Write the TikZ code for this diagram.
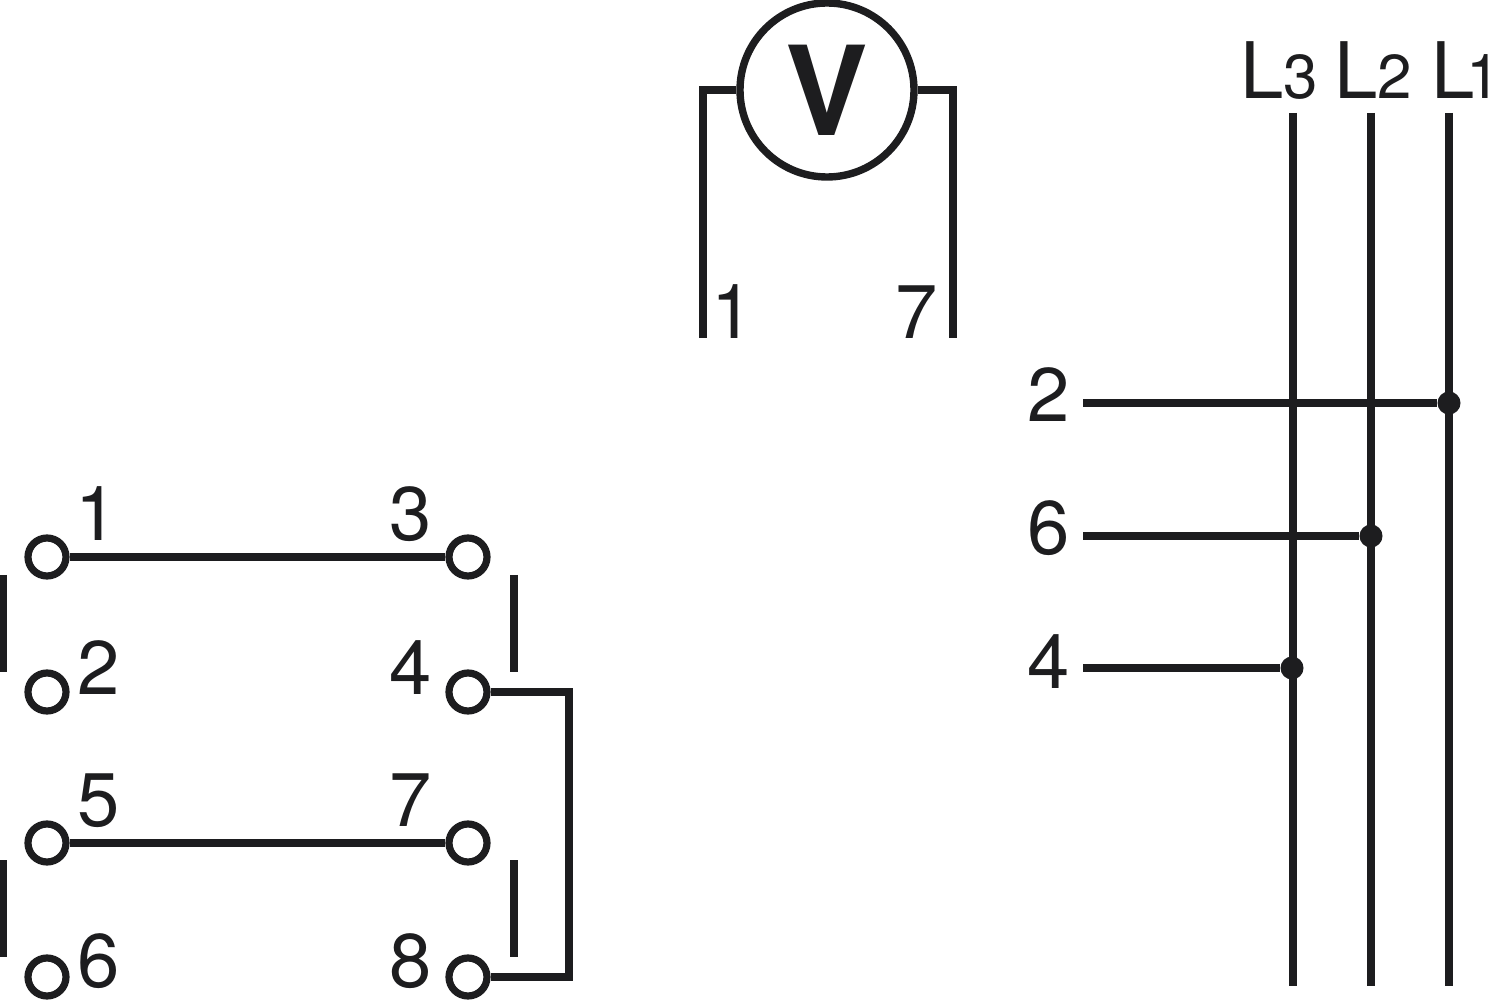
\documentclass[tikz,border=0pt]{standalone}
\usepackage{fontspec}
\setmainfont{TeX Gyre Heros}
\usepackage{xcolor}
\definecolor{wirecol}{RGB}{29,29,31}

\begin{document}
\begin{tikzpicture}[
    x=0.5pt, y=-0.5pt,
    wire/.style={draw=wirecol, line width=3.75pt},
    terminal/.style={
        circle, draw=wirecol, line width=3.6pt, fill=white,
        minimum size=19pt, inner sep=0pt
    },
    junction/.style={
        circle, fill=wirecol, minimum size=11.5pt, inner sep=0pt
    },
    digit/.style={
        anchor=base, inner sep=0pt, text=wirecol,
        font=\fontsize{38}{38}\selectfont
    },
    phase/.style={
        anchor=base west, inner sep=0pt, text=wirecol,
        font=\fontsize{39}{39}\selectfont
    }
]
\newcommand{\phaseidx}[1]{{\fontsize{31}{31}\selectfont #1}}
\useasboundingbox (0,0) rectangle (1500,1005);

% Voltmeter
\node[circle, draw=wirecol, line width=3.7pt, minimum size=87pt, inner sep=0pt] (meter) at (827,90) {};
\node[inner sep=0pt, anchor=base, text=wirecol, font=\fontsize{62}{62}\selectfont\bfseries] (meterv) at (827,136) {V};
\coordinate (meterleft) at (703,338);
\coordinate (meterright) at (953,338);
\draw[wire, line join=miter] (meter.west) -| (meterleft);
\draw[wire, line join=miter] (meter.east) -| (meterright);
\node[digit] (meterone) at (733,339) {1};
\node[digit] (meterseven) at (917,339) {7};

% Phase lines
\node[phase] (labelthree) at (1240,99) {L\phaseidx{3}};
\node[phase] (labeltwo) at (1334,99) {L\phaseidx{2}};
\node[phase] (labelone) at (1431,99) {L\kern-4pt\phaseidx{1}};

\coordinate (topthree) at (1293,113);
\coordinate (toptwo) at (1371,113);
\coordinate (topone) at (1449,113);
\coordinate (botthree) at (1293,986);
\coordinate (bottwo) at (1371,986);
\coordinate (botone) at (1449,986);
\draw[wire] (topthree) -- (botthree);
\draw[wire] (toptwo) -- (bottwo);
\draw[wire] (topone) -- (botone);

% Tapped lines
\node[junction] (tapone) at (1449,403) {};
\node[junction] (taptwo) at (1371,536) {};
\node[junction] (tapthree) at (1292,668) {};
\coordinate (startone) at (1083,403);
\coordinate (starttwo) at (1083,536);
\coordinate (startthree) at (1083,668);
\draw[wire] (startone) -- (tapone);
\draw[wire] (starttwo) -- (taptwo);
\draw[wire] (startthree) -- (tapthree);
\node[digit] (tapnumone) at (1049,422) {2};
\node[digit] (tapnumtwo) at (1049,555) {6};
\node[digit] (tapnumthree) at (1049,688) {4};

% Contact terminals
\node[terminal] (tone) at (47,557) {};
\node[terminal] (ttwo) at (47,692) {};
\node[terminal] (tfive) at (47,843) {};
\node[terminal] (tsix) at (47,977) {};
\node[terminal] (tthree) at (468,557) {};
\node[terminal] (tfour) at (468,692) {};
\node[terminal] (tseven) at (468,843) {};
\node[terminal] (teight) at (468,977) {};

\node[digit] (numone) at (97,541) {1};
\node[digit] (numtwo) at (99,694) {2};
\node[digit] (numfive) at (99,826) {5};
\node[digit] (numsix) at (99,987) {6};
\node[digit] (numthree) at (411,541) {3};
\node[digit] (numfour) at (411,694) {4};
\node[digit] (numseven) at (411,826) {7};
\node[digit] (numeight) at (411,987) {8};

% Links
\draw[wire] (tone) -- (tthree);
\draw[wire] (tfive) -- (tseven);
\coordinate (bridge) at (569,832);
\draw[wire, line join=miter] (tfour.east) -| (bridge) |- (teight.east);

% Switch bars
\coordinate (barla) at (3.5,575);
\coordinate (barlb) at (3.5,672);
\coordinate (barlc) at (3.5,860);
\coordinate (barld) at (3.5,957);
\coordinate (barra) at (514,575);
\coordinate (barrb) at (514,672);
\coordinate (barrc) at (514,860);
\coordinate (barrd) at (514,957);
\draw[wire] (barla) -- (barlb);
\draw[wire] (barlc) -- (barld);
\draw[wire] (barra) -- (barrb);
\draw[wire] (barrc) -- (barrd);

\end{tikzpicture}
\end{document}
